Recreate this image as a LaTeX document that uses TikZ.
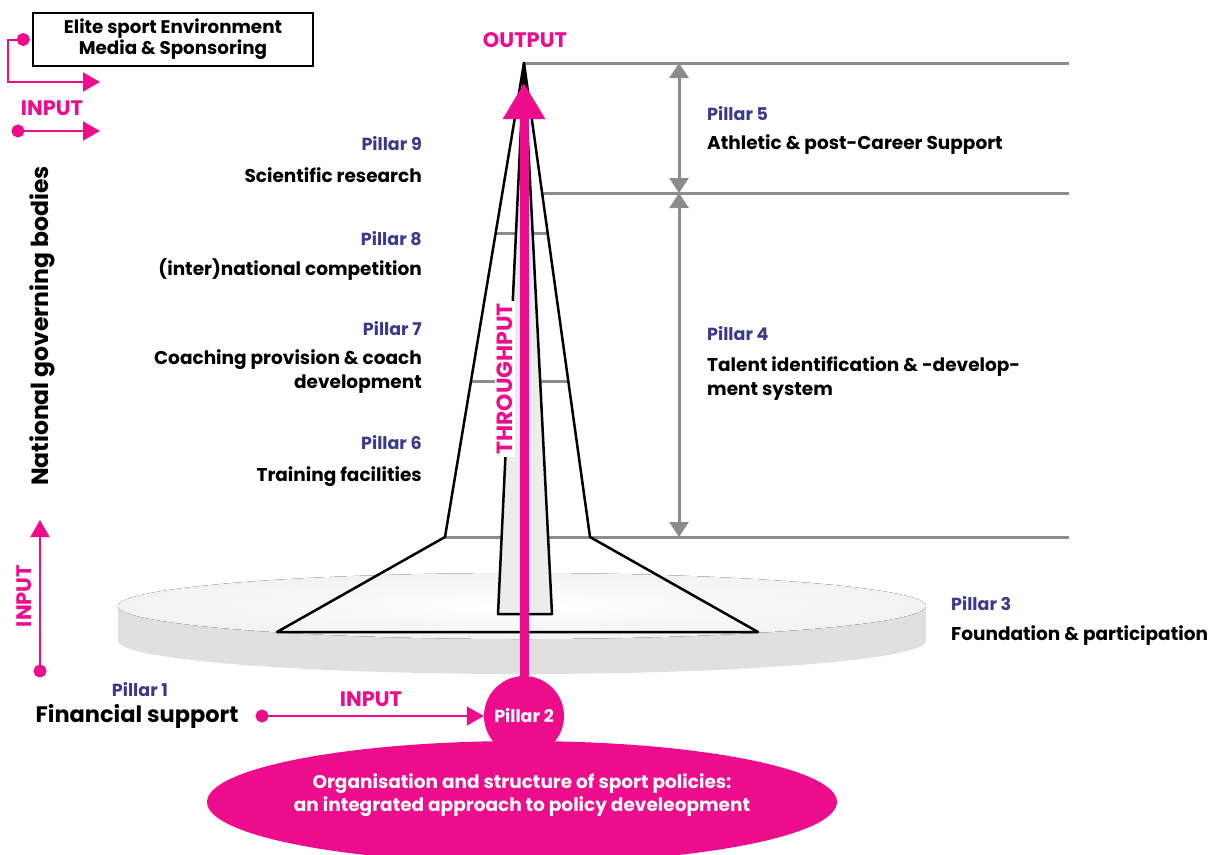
\documentclass[tikz,border=0pt]{standalone}
\usepackage{fontspec}
\setmainfont{Poppins}
\usetikzlibrary{arrows.meta,shapes.geometric,positioning}
\definecolor{pinkmag}{RGB}{236,12,140}
\definecolor{pillarblue}{RGB}{58,58,140}
\definecolor{rulegray}{RGB}{140,140,140}
\definecolor{discside}{RGB}{224,224,224}
\definecolor{disctop}{RGB}{242,242,242}
\tikzset{
  pillar/.style={font=\bfseries\fontsize{17.5}{20}\selectfont, text=pillarblue, inner sep=0pt},
  desc/.style={font=\bfseries\fontsize{18.5}{24}\selectfont, inner sep=0pt},
  pinklabel/.style={font=\bfseries\fontsize{21}{24}\selectfont, text=pinkmag, inner sep=0pt},
  dotflow/.style={draw=pinkmag, line width=2pt, {Circle[length=13pt]}-{Triangle[width=19pt,length=17pt]}},
  guideline/.style={draw=rulegray, line width=3pt},
  spanarrow/.style={draw=rulegray, line width=3pt, {Triangle[width=19pt,length=15pt]}-{Triangle[width=19pt,length=15pt]}},
  outline/.style={draw=black, line width=2.5pt, line join=round}
}
\begin{document}
\begin{tikzpicture}[x=1pt,y=-1pt]
  \useasboundingbox (0,0) rectangle (1212,854);
  % disc of pillar 3
  \fill[discside] (522,641) ellipse (404 and 33);
  \fill[discside] (118,606) rectangle (926,641);
  \fill[inner color=white, outer color=disctop] (522,606) ellipse (404 and 33);

  % pyramid corners
  \coordinate (apex) at (524,63);
  \coordinate (lshoulder) at (445,537);
  \coordinate (rshoulder) at (590,537);
  \coordinate (lbase) at (277,632);
  \coordinate (rbase) at (758,632);
  \coordinate (stemL) at (498,614);
  \coordinate (stemR) at (552,614);

  % levels
  \draw[guideline] (apex) -- (1069,63);
  \draw[guideline] (542,193) -- (1069,193);
  \draw[guideline] (lshoulder) -- (1069,537);
  \draw[guideline] (496,233) -- (548,233);
  \draw[guideline] (471,381) -- (568,381);
  \draw[spanarrow] (679,63) -- (679,193);
  \draw[spanarrow] (679,193) -- (679,537);

  \draw[outline] (lbase) -- (lshoulder) -- (apex) -- (rshoulder) -- (rbase) -- cycle;
  \filldraw[outline, fill=gray!15] (stemL) -- (apex) -- (stemR) -- cycle;

  \node[pinklabel, font=\bfseries\fontsize{22}{24}\selectfont, rotate=90, fill=white, inner sep=2pt] (thru) at (505,379) {THROUGHPUT};
  \node[pinklabel] (out) at (525,40) {OUTPUT};

  % base of the model
  \node[ellipse, fill=pinkmag, minimum width=630pt, minimum height=122pt, inner sep=0pt] (policy) at (522,802) {};
  \node[font=\bfseries\fontsize{18.5}{23}\selectfont, text=white, align=center, inner sep=0pt]
    (policytext) at ([yshift=7pt]policy.center) {Organisation and structure of sport policies:\\an integrated approach to policy develeopment};
  \node[circle, fill=pinkmag, minimum size=80pt, inner sep=0pt, text=white,
    font=\bfseries\fontsize{17.5}{20}\selectfont] (p2) at (524,716) {Pillar 2};
  \draw[pinkmag, line width=9pt, -{Triangle[width=40pt,length=36pt]}] (p2.north) -- (524,83);

  % pillar 1
  \node[pillar] (pil1) at (140,690) {Pillar 1};
  \node[font=\bfseries\fontsize{22.5}{26}\selectfont, inner sep=0pt] (fin) at (137,716) {Financial support};
  \coordinate (findot) at (255.5,716);
  \draw[dotflow] (findot) -- (p2.west);
  \node[pinklabel] (fininput) at (371,699) {INPUT};

  % national governing bodies
  \node[font=\bfseries\fontsize{23.5}{26}\selectfont, rotate=90, inner sep=0pt] (ngb) at (42,326) {National governing bodies};
  \coordinate (ngbdot) at (40,677.5);
  \coordinate (ngbtip) at (40,520);
  \draw[dotflow] (ngbdot) -- (ngbtip);
  \node[pinklabel, rotate=90] (ngbinput) at (24,596) {INPUT};

  % elite sport environment
  \node[draw, line width=1.5pt, minimum width=280pt, minimum height=53pt, align=center, inner sep=0pt,
    font=\bfseries\fontsize{18.3}{21}\selectfont] (elite) at (173,39.5) {Elite sport Environment\\Media \& Sponsoring};
  \coordinate (elitetip) at (100,82);
  \draw[dotflow] ([xshift=-2.5pt]elite.west) -- ++(-22,0) |- (elitetip);
  \node[pinklabel] (eliteinput) at (52,108) {INPUT};
  \coordinate (topdot) at (11.5,131);
  \coordinate (toptip) at (100,131);
  \draw[dotflow] (topdot) -- (toptip);

  % pillars on the left
  \node[pillar, anchor=east] (pil9) at (422,144) {Pillar 9};
  \node[desc, anchor=east] (sci) at (422,175) {Scientific research};
  \node[pillar, anchor=east] (pil8) at (422,239) {Pillar 8};
  \node[desc, anchor=east] (comp) at (422,270) {(inter)national competition};
  \node[pillar, anchor=east] (pil7) at (422,329) {Pillar 7};
  \node[desc, anchor=east, align=right] (coach) at (422,372) {Coaching provision \& coach\\development};
  \node[pillar, anchor=east] (pil6) at (422,443) {Pillar 6};
  \node[desc, anchor=east] (train) at (422,477) {Training facilities};

  % pillars on the right
  \node[pillar, anchor=west] (pil5) at (707,114) {Pillar 5};
  \node[desc, anchor=west] (athl) at (707,145) {Athletic \& post-Career Support};
  \node[pillar, anchor=west] (pil4) at (707,334) {Pillar 4};
  \node[desc, anchor=west, align=left] (talent) at (707,379) {Talent identification \& -develop-\\ment system};
  \node[pillar, anchor=west] (pil3) at (951,604) {Pillar 3};
  \node[desc, anchor=west] (found) at (951,636) {Foundation \& participation};
\end{tikzpicture}
\end{document}
